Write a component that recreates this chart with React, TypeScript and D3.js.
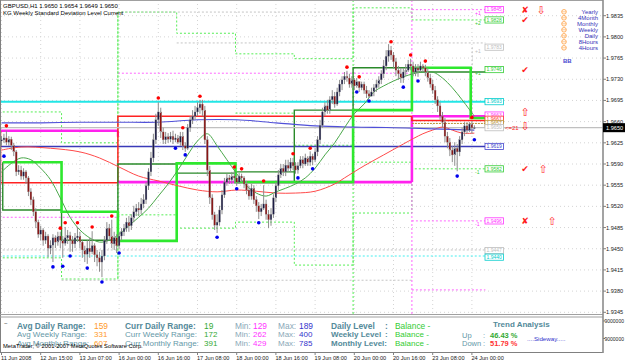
import React from "react";
import * as d3 from "d3";

// ---------------- data ----------------
const firstOpen = 1.9628;
const closes = [
  1.9630, 1.9633, 1.9626, 1.9631, 1.9621, 1.9610, 1.9577, 1.9580, 1.9570, 1.9577,
  1.9567, 1.9544, 1.9531, 1.9511, 1.9494, 1.9474, 1.9481, 1.9464, 1.9471, 1.9451,
  1.9456, 1.9468, 1.9461, 1.9471, 1.9464, 1.9459, 1.9468, 1.9472, 1.9464, 1.9458,
  1.9468, 1.9471, 1.9461, 1.9448, 1.9441, 1.9451, 1.9445, 1.9455, 1.9440, 1.9435,
  1.9428, 1.9438, 1.9464, 1.9484, 1.9471, 1.9458, 1.9468, 1.9455, 1.9471, 1.9478,
  1.9484, 1.9494, 1.9488, 1.9501, 1.9511, 1.9517, 1.9514, 1.9524, 1.9531, 1.9554,
  1.9577, 1.9600, 1.9630, 1.9663, 1.9676, 1.9643, 1.9630, 1.9635, 1.9631, 1.9636,
  1.9630, 1.9633, 1.9626, 1.9636, 1.9620, 1.9616, 1.9650, 1.9663, 1.9669, 1.9676,
  1.9683, 1.9689, 1.9679, 1.9630, 1.9580, 1.9534, 1.9506, 1.9489, 1.9494, 1.9514,
  1.9539, 1.9560, 1.9567, 1.9564, 1.9570, 1.9567, 1.9560, 1.9570, 1.9567, 1.9557,
  1.9547, 1.9537, 1.9550, 1.9531, 1.9521, 1.9511, 1.9517, 1.9524, 1.9507, 1.9498,
  1.9507, 1.9534, 1.9554, 1.9572, 1.9583, 1.9577, 1.9588, 1.9583, 1.9593, 1.9587,
  1.9580, 1.9587, 1.9597, 1.9590, 1.9600, 1.9593, 1.9603, 1.9597, 1.9610, 1.9630,
  1.9654, 1.9676, 1.9686, 1.9679, 1.9696, 1.9702, 1.9689, 1.9709, 1.9722, 1.9729,
  1.9735, 1.9732, 1.9722, 1.9729, 1.9719, 1.9726, 1.9716, 1.9722, 1.9712, 1.9706,
  1.9702, 1.9709, 1.9716, 1.9722, 1.9729, 1.9739, 1.9752, 1.9768, 1.9778, 1.9770,
  1.9759, 1.9745, 1.9739, 1.9732, 1.9742, 1.9745, 1.9755, 1.9752, 1.9742, 1.9749,
  1.9745, 1.9752, 1.9749, 1.9742, 1.9732, 1.9722, 1.9712, 1.9696, 1.9686, 1.9669,
  1.9659, 1.9636, 1.9626, 1.9613, 1.9605, 1.9616, 1.9610, 1.9630, 1.9643, 1.9653,
  1.9646, 1.9656, 1.9650, 1.9650,
];
const highs = [
  1.9636, 1.9640, 1.9645, 1.9636, 1.9635, 1.9625, 1.9613, 1.9588, 1.9587, 1.9583,
  1.9580, 1.9570, 1.9550, 1.9536, 1.9517, 1.9498, 1.9488, 1.9484, 1.9478, 1.9474,
  1.9464, 1.9474, 1.9472, 1.9478, 1.9478, 1.9471, 1.9486, 1.9481, 1.9478, 1.9471,
  1.9476, 1.9486, 1.9478, 1.9464, 1.9455, 1.9464, 1.9468, 1.9479, 1.9459, 1.9448,
  1.9445, 1.9448, 1.9471, 1.9494, 1.9491, 1.9498, 1.9478, 1.9474, 1.9478, 1.9484,
  1.9491, 1.9501, 1.9504, 1.9507, 1.9521, 1.9524, 1.9527, 1.9534, 1.9540, 1.9560,
  1.9583, 1.9610, 1.9640, 1.9673, 1.9692, 1.9683, 1.9650, 1.9643, 1.9641, 1.9643,
  1.9645, 1.9640, 1.9638, 1.9643, 1.9643, 1.9626, 1.9656, 1.9669, 1.9679, 1.9686,
  1.9692, 1.9696, 1.9696, 1.9686, 1.9636, 1.9587, 1.9540, 1.9511, 1.9507, 1.9521,
  1.9547, 1.9567, 1.9574, 1.9572, 1.9577, 1.9578, 1.9572, 1.9575, 1.9574, 1.9570,
  1.9562, 1.9554, 1.9557, 1.9555, 1.9537, 1.9527, 1.9524, 1.9555, 1.9531, 1.9514,
  1.9517, 1.9540, 1.9560, 1.9580, 1.9590, 1.9590, 1.9597, 1.9597, 1.9600, 1.9600,
  1.9593, 1.9593, 1.9603, 1.9603, 1.9607, 1.9603, 1.9611, 1.9607, 1.9616, 1.9636,
  1.9663, 1.9683, 1.9692, 1.9696, 1.9702, 1.9712, 1.9709, 1.9716, 1.9729, 1.9735,
  1.9742, 1.9744, 1.9739, 1.9735, 1.9732, 1.9732, 1.9727, 1.9726, 1.9726, 1.9719,
  1.9712, 1.9716, 1.9722, 1.9729, 1.9735, 1.9745, 1.9762, 1.9778, 1.9788, 1.9785,
  1.9775, 1.9765, 1.9752, 1.9749, 1.9749, 1.9755, 1.9762, 1.9764, 1.9759, 1.9755,
  1.9755, 1.9759, 1.9755, 1.9754, 1.9749, 1.9739, 1.9729, 1.9719, 1.9702, 1.9692,
  1.9676, 1.9666, 1.9643, 1.9633, 1.9620, 1.9626, 1.9623, 1.9636, 1.9650, 1.9659,
  1.9659, 1.9659, 1.9661, 1.9654,
];
const lows = [
  1.9620, 1.9625, 1.9621, 1.9620, 1.9613, 1.9603, 1.9570, 1.9572, 1.9564, 1.9564,
  1.9557, 1.9537, 1.9522, 1.9504, 1.9484, 1.9468, 1.9464, 1.9455, 1.9458, 1.9436,
  1.9441, 1.9428, 1.9451, 1.9455, 1.9451, 1.9435, 1.9455, 1.9458, 1.9445, 1.9445,
  1.9451, 1.9461, 1.9451, 1.9435, 1.9428, 1.9425, 1.9435, 1.9441, 1.9428, 1.9421,
  1.9412, 1.9403, 1.9431, 1.9458, 1.9464, 1.9451, 1.9448, 1.9443, 1.9450, 1.9464,
  1.9471, 1.9478, 1.9478, 1.9481, 1.9494, 1.9504, 1.9504, 1.9507, 1.9517, 1.9524,
  1.9547, 1.9570, 1.9593, 1.9623, 1.9653, 1.9633, 1.9623, 1.9623, 1.9625, 1.9626,
  1.9623, 1.9626, 1.9623, 1.9620, 1.9613, 1.9610, 1.9613, 1.9643, 1.9656, 1.9663,
  1.9669, 1.9673, 1.9669, 1.9623, 1.9570, 1.9524, 1.9498, 1.9481, 1.9476, 1.9488,
  1.9507, 1.9534, 1.9554, 1.9557, 1.9557, 1.9560, 1.9554, 1.9557, 1.9560, 1.9550,
  1.9540, 1.9531, 1.9531, 1.9524, 1.9511, 1.9499, 1.9504, 1.9514, 1.9498, 1.9484,
  1.9488, 1.9501, 1.9527, 1.9547, 1.9567, 1.9570, 1.9570, 1.9577, 1.9577, 1.9580,
  1.9574, 1.9574, 1.9583, 1.9583, 1.9587, 1.9587, 1.9587, 1.9588, 1.9593, 1.9603,
  1.9623, 1.9650, 1.9669, 1.9673, 1.9673, 1.9689, 1.9683, 1.9686, 1.9702, 1.9712,
  1.9722, 1.9726, 1.9716, 1.9716, 1.9712, 1.9716, 1.9709, 1.9712, 1.9706, 1.9699,
  1.9699, 1.9702, 1.9702, 1.9709, 1.9716, 1.9722, 1.9732, 1.9745, 1.9759, 1.9762,
  1.9749, 1.9735, 1.9729, 1.9724, 1.9724, 1.9735, 1.9742, 1.9745, 1.9735, 1.9735,
  1.9734, 1.9742, 1.9742, 1.9735, 1.9726, 1.9716, 1.9706, 1.9689, 1.9676, 1.9663,
  1.9650, 1.9626, 1.9616, 1.9603, 1.9593, 1.9587, 1.9578, 1.9603, 1.9623, 1.9636,
  1.9640, 1.9643, 1.9640, 1.9649,
];

const timeTickBars = [0, 16, 32, 48, 64, 80, 96, 112, 128, 144, 160, 176, 192];
const timeTickLabels = [
  "11 Jun 2008", "12 Jun 15:00", "13 Jun 07:00", "16 Jun 00:00", "16 Jun 16:00",
  "17 Jun 08:00", "18 Jun 00:00", "18 Jun 16:00", "19 Jun 08:00", "20 Jun 00:00",
  "20 Jun 16:00", "23 Jun 08:00", "24 Jun 00:00",
];
const priceTicks = [
  1.9835, 1.98, 1.9765, 1.973, 1.9695, 1.966, 1.9625, 1.959, 1.9555, 1.952,
  1.9485, 1.945, 1.9415, 1.938, 1.9345,
];
const lastPrice = 1.965;

const fractalUpBars = [2, 24, 26, 31, 37, 45, 64, 74, 81, 95, 98, 107, 119, 126, 141, 146, 159, 167, 173, 192];
const fractalUpPrices = [1.9653, 1.9484, 1.9493, 1.9493, 1.9486, 1.9504, 1.9699, 1.965, 1.9702, 1.9585, 1.9582, 1.9562, 1.9607, 1.9616, 1.975, 1.9734, 1.9792, 1.977, 1.976, 1.9667];
const fractalDownBars = [1, 21, 25, 28, 35, 41, 48, 71, 75, 88, 96, 105, 121, 127, 145, 150, 164, 170, 186, 193];
const fractalDownPrices = [1.9603, 1.942, 1.9421, 1.9438, 1.9418, 1.9395, 1.9443, 1.9616, 1.9605, 1.9469, 1.9549, 1.9493, 1.9567, 1.9582, 1.9709, 1.9694, 1.9717, 1.9727, 1.957, 1.963];

const maGreenBars = [0, 4, 8, 12, 16, 20, 24, 28, 32, 36, 40, 44, 48, 52, 56, 60, 64, 68, 72, 76, 80, 84, 88, 92, 96, 100, 104, 108, 112, 116, 120, 124, 128, 132, 136, 140, 144, 148, 152, 156, 160, 164, 168, 172, 176, 180, 184, 188, 193];
const maGreenValues = [1.9577, 1.9591, 1.96, 1.9597, 1.9583, 1.9564, 1.9534, 1.9502, 1.9481, 1.9468, 1.9461, 1.9464, 1.9474, 1.9488, 1.9502, 1.9517, 1.9537, 1.9557, 1.958, 1.9605, 1.9628, 1.964, 1.962, 1.9597, 1.9574, 1.9554, 1.9542, 1.9537, 1.9544, 1.955, 1.9557, 1.9567, 1.9583, 1.9605, 1.9625, 1.965, 1.9673, 1.9689, 1.9709, 1.9719, 1.9727, 1.9734, 1.9739, 1.9742, 1.9742, 1.9732, 1.9716, 1.9696, 1.9669];
const maRedBars = [0, 8, 20, 32, 40, 48, 56, 64, 72, 80, 88, 96, 104, 112, 120, 128, 136, 140, 148, 156, 164, 172, 176, 180, 184, 188, 193];
const maRedValues = [1.9613, 1.9618, 1.9616, 1.961, 1.96, 1.9585, 1.957, 1.9562, 1.9554, 1.9547, 1.9544, 1.9547, 1.9545, 1.9542, 1.9542, 1.9545, 1.9557, 1.9567, 1.9587, 1.9605, 1.9623, 1.964, 1.9646, 1.9651, 1.9646, 1.9641, 1.9641];
const maBlueBars = [0, 16, 32, 48, 64, 80, 96, 112, 128, 144, 160, 176, 193];
const maBlueValues = [1.9658, 1.9658, 1.9659, 1.9659, 1.9659, 1.9663, 1.9663, 1.9658, 1.9653, 1.9651, 1.965, 1.9648, 1.9646];

// daily standard deviation levels (per trading day)
const dayStartBars = [1, 25, 48, 72, 96, 120, 144, 168, 192];
const dailyBright = [1.9593, 1.9511, 1.9463, 1.9591, 1.956, 1.956, 1.9679, 1.9749, 1.9666];
const dailyDark = [1.9514, 1.9464, 1.959, 1.9575, 1.9577, 1.9679, 1.9749, 1.9742];
const dailyUpper = [1.9676, 1.9625, 1.9841, 1.9806, 1.9772, 1.9764, 1.9848, 1.9828, 1.9828];
const dailyLower = [1.9435, 1.94, 1.9506, 1.9484, 1.9494, 1.9423, 1.9509, 1.9582, 1.9582];

// weekly levels
const weekStartBars = [0, 48, 168];
const weeklyMagenta = [1.9645, 1.956, 1.9669];
const weeklyRed = [1.9559, 1.9669, 1.9662];

const monthlyCyan = 1.9693;
const monthlyBlue = 1.9619;

// extra dotted levels [fromBar, toBar(-1 = label column), price]
const grayDotted = [[48, 168, 1.9841], [72, -1, 1.979], [1, -1, 1.9448], [25, 168, 1.9398]];
const magentaDotted = [[1, 48, 1.9502], [48, 168, 1.974], [168, -1, 1.9845], [168, -1, 1.9496], [168, -1, 1.9382]];
const cyanDotted = [[1, -1, 1.9438]];
const greenInnerDotted = [[96, 120, 1.9674], [120, 144, 1.9621], [144, 168, 1.9593]];

const levelLabelValues = [1.9845, 1.9828, 1.9783, 1.9746, 1.9693, 1.9663, 1.9661, 1.9657, 1.965, 1.9619, 1.9582, 1.9496, 1.9447, 1.944];
const levelLabelColors = ["#ff33ff", "#33cc33", "#bdbdbd", "#33cc33", "#00cccc", "#ff33ff", "#ff3030", "#b89030", "#bdbdbd", "#4444cc", "#33cc33", "#ff33ff", "#bdbdbd", "#00cccc"];
const levelMarks = [[1.9845, "+1"], [1.9828, "+2"], [1.9783, "+1"], [1.9746, "+1"], [1.9582, "-1"], [1.9496, "-1"]];
const levelMarkColors = ["#ff33ff", "#33cc33", "#bdbdbd", "#33cc33", "#33cc33", "#ff33ff"];

const signalCol1 = [[1.9845, "✘"], [1.9828, "✔"], [1.9746, "✔"], [1.9675, "⇧"], [1.9652, "⇩"], [1.9582, "✔"], [1.9496, "✘"]];
const signalCol2 = [[1.9845, "⇩"], [1.9582, "⇧"], [1.9496, "⇧"]];

const periodNames = ["Yearly", "4Month", "Monthly", "Weekly", "Daily", "8Hours", "4Hours"];

const rangeNames = ["Daily", "Weekly", "Monthly"];
const avgRange = [159, 331, 607];
const currRange = [19, 172, 391];
const minRange = [129, 262, 429];
const maxRange = [189, 400, 785];
const levelStatus = ["Balance -", "Balance -", "Balance -"];
const trendUp = 46.43;
const trendDown = 51.79;
const trendText = "....Sideway.....";
const subAxisLabels = ["9000000", "9000000"];

const FONT = "'Liberation Sans', Arial, Helvetica, sans-serif";

export default function App() {
  const W = 625;
  const H = 363;
  const X = d3.scaleLinear().domain([0, 193]).range([1.5, 474.35]);
  const Y = d3.scaleLinear().domain([1.9345, 1.9835]).range([312.3, 15.7]);
  const END_BAR = 197.5;
  const AXIS_X = 603;
  const bx = (b: number) => X(b) - 1.2;
  const ex = (b: number) => (b < 0 ? X(END_BAR) : bx(b));
  const opens = closes.map((c, i) => (i === 0 ? firstOpen : closes[i - 1]));

  const stepPath = (starts: number[], vals: number[]) => {
    let d = "";
    vals.forEach((v, i) => {
      const x0 = i === 0 ? Math.max(0, bx(starts[i])) : bx(starts[i]);
      const x1 = i + 1 < starts.length ? bx(starts[i + 1]) : X(END_BAR);
      const y = Y(v);
      d += (i === 0 ? `M${x0},${y}` : `L${x0},${y}`) + `L${x1},${y}`;
    });
    return d;
  };
  const segPath = (starts: number[], vals: number[]) =>
    vals
      .map((v, i) => {
        const x0 = Math.max(0, bx(starts[i]));
        const x1 = i + 1 < starts.length ? bx(starts[i + 1]) : X(END_BAR);
        return `M${x0},${Y(v)}L${x1},${Y(v)}`;
      })
      .join("");
  const bracketPath = (starts: number[], from: number[], to: number[]) =>
    to
      .map((v, i) => {
        const x0 = Math.max(0.5, bx(starts[i]));
        const x1 = i + 1 < starts.length ? bx(starts[i + 1]) : X(END_BAR);
        return `M${x0},${Y(from[i])}L${x0},${Y(v)}L${x1},${Y(v)}`;
      })
      .join("");

  const maLine = (bars: number[], vals: number[]) =>
    d3
      .line<number>()
      .x((_, i) => X(bars[i]))
      .y((v) => Y(v))
      .curve(d3.curveCatmullRom)(vals) || "";

  const dotted = (list: number[][], color: string, key: string) =>
    list.map((s, i) => (
      <line key={key + i} x1={bx(s[0])} x2={ex(s[1])} y1={Y(s[2])} y2={Y(s[2])}
        stroke={color} strokeWidth={1} strokeDasharray="2,2" />
    ));

  // stack the right-hand level labels: upward above the price, downward below it
  const labelYs = levelLabelValues.map((v) => Y(v));
  const pivot = levelLabelValues.findIndex((v) => v === lastPrice);
  for (let i = pivot - 1; i >= 0; i--) {
    if (labelYs[i] > labelYs[i + 1] - 4.2) labelYs[i] = labelYs[i + 1] - 4.2;
  }
  for (let i = pivot + 1; i < labelYs.length; i++) {
    if (labelYs[i] < labelYs[i - 1] + 6.6) labelYs[i] = labelYs[i - 1] + 6.6;
  }

  const teal = "#6598a8";
  const tealBold = "#548a9a";
  const row1 = 328.5, rowStep = 8.6;

  return (
    <div style={{ position: "fixed", left: 0, top: 0 }}>
      <svg width={W} height={H} style={{ display: "block", fontFamily: FONT }}>
        <rect x={0} y={0} width={W} height={H} fill="#ffffff" />
        <defs>
          <clipPath id="main">
            <rect x={0} y={1} width={AXIS_X} height={313} />
          </clipPath>
        </defs>

        <g clipPath="url(#main)">
          {/* grid */}
          {priceTicks.map((p) => (
            <line key={"gh" + p} x1={0} x2={AXIS_X} y1={Y(p)} y2={Y(p)} stroke="#d4d4d4" strokeDasharray="1,3" />
          ))}
          {timeTickBars.map((b) => (
            <line key={"gv" + b} x1={X(b)} x2={X(b)} y1={0} y2={314} stroke="#d4d4d4" strokeDasharray="1,3" />
          ))}

          {/* dotted std-dev levels */}
          <path d={stepPath(dayStartBars, dailyUpper)} fill="none" stroke="#55ee55" strokeDasharray="2,2" />
          <path d={stepPath(dayStartBars, dailyLower)} fill="none" stroke="#55ee55" strokeDasharray="2,2" />
          {dotted(greenInnerDotted, "#55ee55", "gi")}
          {dotted(grayDotted, "#c4c4c4", "gd")}
          {dotted(magentaDotted, "#ff66ff", "md")}
          {dotted(cyanDotted, "#44eeee", "cd")}
          <line x1={bx(48)} x2={bx(48)} y1={Y(1.9841)} y2={Y(1.94)} stroke="#55ee55" strokeDasharray="2,2" />
          <line x1={bx(144)} x2={bx(144)} y1={0} y2={314} stroke="#55ee55" strokeDasharray="2,2" />
          <line x1={bx(168)} x2={bx(168)} y1={0} y2={314} stroke="#ff66ff" strokeDasharray="2,2" />
          <line x1={bx(192) + 1.5} x2={bx(192) + 1.5} y1={Y(1.9783)} y2={Y(1.9666)} stroke="#c4c4c4" strokeDasharray="2,2" />

          {/* monthly solid levels */}
          <line x1={0} x2={X(END_BAR)} y1={Y(monthlyCyan)} y2={Y(monthlyCyan)} stroke="#22e6e6" strokeWidth={2} />
          <line x1={0} x2={X(END_BAR)} y1={Y(monthlyBlue)} y2={Y(monthlyBlue)} stroke="#3a3ab8" strokeWidth={1.5} />

          {/* weekly levels */}
          <path d={segPath(weekStartBars, weeklyMagenta)} fill="none" stroke="#ff22ee" strokeWidth={2.6} />
          <line x1={bx(168)} x2={bx(168)} y1={Y(weeklyMagenta[1])} y2={Y(weeklyMagenta[2])} stroke="#ff22ee" strokeWidth={2.6} />
          <line x1={bx(48)} x2={bx(48)} y1={Y(weeklyMagenta[0])} y2={Y(weeklyMagenta[0]) + 6} stroke="#ff22ee" strokeWidth={2.2} />
          <path d={bracketPath(weekStartBars, weeklyMagenta, weeklyRed)} fill="none" stroke="#ff2222" strokeWidth={1.5} />
          <line x1={bx(168)} x2={X(END_BAR)} y1={Y(1.9657)} y2={Y(1.9657)} stroke="#b89030" strokeWidth={1} strokeDasharray="2,1" />

          {/* daily levels */}
          <path d={bracketPath(dayStartBars.slice(0, 8), dailyBright, dailyDark)} fill="none" stroke="#2a8a2a" strokeWidth={1.4} />
          <path d={stepPath(dayStartBars, dailyBright)} fill="none" stroke="#2ee82e" strokeWidth={2.6} />

          {/* current price line */}
          <line x1={0} x2={AXIS_X} y1={Y(lastPrice)} y2={Y(lastPrice)} stroke="#c0c0c0" strokeWidth={1.2} />

          {/* moving averages */}
          <path d={maLine(maRedBars, maRedValues)} fill="none" stroke="#ff4a4a" strokeWidth={1} />
          <path d={maLine(maBlueBars, maBlueValues)} fill="none" stroke="#5050d8" strokeWidth={1.1} />
          <path d={maLine(maGreenBars, maGreenValues)} fill="none" stroke="#4aa84a" strokeWidth={1} />

          {/* candles */}
          {closes.map((c, i) => {
            const o = opens[i];
            const hi = Math.max(highs[i], o, c);
            const lo = Math.min(lows[i], o, c);
            const up = c >= o;
            const top = Y(Math.max(o, c));
            const h = Math.max(1, Y(Math.min(o, c)) - top);
            const cx = X(i);
            return (
              <g key={"c" + i}>
                <line x1={cx} x2={cx} y1={Y(hi)} y2={Y(lo)} stroke="#8c8c8c" strokeWidth={1} />
                <rect x={cx - 0.9} y={top} width={1.8} height={h}
                  fill={up ? "#1c1c44" : "#8a1414"} stroke="#9a9a9a" strokeWidth={0.3} />
              </g>
            );
          })}

          {/* fractals */}
          {fractalUpBars.map((b, i) => (
            <circle key={"fu" + i} cx={X(b)} cy={Y(fractalUpPrices[i])} r={1.8} fill="#ff0000" />
          ))}
          {fractalDownBars.map((b, i) => (
            <circle key={"fd" + i} cx={X(b)} cy={Y(fractalDownPrices[i])} r={1.8} fill="#0000ee" />
          ))}

          {/* level label boxes */}
          {levelLabelValues.map((v, i) => (
            <g key={"lb" + i}>
              <rect x={485} y={labelYs[i] - 3.1} width={18.5} height={6.2} fill="#ffffff"
                stroke={levelLabelColors[i]} strokeWidth={0.8} />
              <text x={494.2} y={labelYs[i] + 1.8} fontSize={5} textAnchor="middle" fill={levelLabelColors[i]}>
                {v.toFixed(4)}
              </text>
            </g>
          ))}
          <text x={505} y={Y(lastPrice) + 2} fontSize={6} fill="#ff2222">{"<=21"}</text>
          {levelMarks.map((m, i) => (
            <text key={"lm" + i} x={475} y={Y(m[0] as number) + 5.5} fontSize={5} fill={levelMarkColors[i]}>
              {m[1] as string}
            </text>
          ))}

          {/* signals */}
          {signalCol1.map((s, i) => (
            <text key={"s1" + i} x={525} y={Y(s[0] as number) + 3.5} fontSize={(s[1] as string).startsWith("⇧") || (s[1] as string).startsWith("⇩") ? 11 : 9}
              textAnchor="middle" fill="#ff2020" fontFamily="'DejaVu Sans', sans-serif">
              {s[1] as string}
            </text>
          ))}
          {signalCol2.map((s, i) => (
            <text key={"s2" + i} x={[541, 543, 552][i]} y={Y(s[0] as number) + 4} fontSize={11}
              textAnchor="middle" fill="#ff3030" fontFamily="'DejaVu Sans', sans-serif">
              {s[1] as string}
            </text>
          ))}

          {/* period legend */}
          {periodNames.map((n, i) => (
            <g key={"pn" + i}>
              <circle cx={564} cy={11.8 + i * 6} r={2.3} fill="none" stroke="#ffa040" strokeWidth={0.8} />
              <line x1={561.8} x2={566.2} y1={11.8 + i * 6} y2={11.8 + i * 6} stroke="#ffa040" strokeWidth={0.6} />
              <text x={598} y={13.9 + i * 6} fontSize={6} textAnchor="end" fill="#3434b8">{n}</text>
            </g>
          ))}
          <text x={563} y={63} fontSize={6} fontWeight="bold" fill="#4a4ad0">BB</text>

          {/* title */}
          <text x={3} y={7.5} fontSize={6} fill="#000">GBPUSD,H1  1.9650 1.9654 1.9649 1.9650</text>
          <text x={3} y={15} fontSize={6} fill="#000">KG Weekly Standard Deviation Level Current</text>
        </g>

        {/* frame */}
        <line x1={0} x2={AXIS_X} y1={0.5} y2={0.5} stroke="#a0a0a0" />
        <line x1={0.5} x2={0.5} y1={0} y2={352.5} stroke="#808080" />
        <line x1={0} x2={AXIS_X} y1={314.5} y2={314.5} stroke="#a0a0a0" />
        <line x1={0} x2={AXIS_X} y1={317} y2={317} stroke="#a0a0a0" />
        <line x1={0} x2={AXIS_X} y1={352.5} y2={352.5} stroke="#808080" />
        <line x1={AXIS_X} x2={AXIS_X} y1={0} y2={353} stroke="#8c8c8c" strokeWidth={1.6} />

        {/* right price axis */}
        {priceTicks.map((p) => (
          <g key={"pt" + p}>
            <line x1={AXIS_X} x2={AXIS_X + 3} y1={Y(p)} y2={Y(p)} stroke="#808080" />
            <text x={606} y={Y(p) + 2} fontSize={5.6} fill="#202020">{p.toFixed(4)}</text>
          </g>
        ))}
        <rect x={AXIS_X} y={Y(lastPrice) - 4.5} width={W - AXIS_X} height={9} fill="#000000" />
        <text x={606} y={Y(lastPrice) + 2} fontSize={5.6} fill="#ffffff">{lastPrice.toFixed(4)}</text>

        {/* sub-window axis */}
        {subAxisLabels.map((t, i) => (
          <g key={"sa" + i}>
            <line x1={AXIS_X} x2={AXIS_X + 2} y1={321 + i * 17.5} y2={321 + i * 17.5} stroke="#808080" />
            <text x={604.5} y={323 + i * 17.5} fontSize={5} fill="#202020">{t}</text>
          </g>
        ))}

        {/* time axis */}
        {timeTickBars.map((b, i) => (
          <g key={"tt" + b}>
            <line x1={X(b)} x2={X(b)} y1={352.5} y2={355} stroke="#808080" />
            <text x={X(b) - 0.5} y={360} fontSize={5.6} fill="#202020">{timeTickLabels[i]}</text>
          </g>
        ))}

        {/* sub-window info panel */}
        <text x={4} y={325} fontSize={6} fill="#606060">~</text>
        {rangeNames.map((n, i) => {
          const yy = row1 + i * rowStep;
          const bold = i === 0;
          const fs = bold ? 8.4 : 8;
          return (
            <g key={"rr" + i} fontSize={fs}>
              <text x={17} y={yy} fill={bold ? tealBold : teal} fontWeight={bold ? "bold" : "normal"}>{`Avg ${n} Range:`}</text>
              <text x={94} y={yy} fill="#ff9a2a">{avgRange[i]}</text>
              <text x={125} y={yy} fill={bold ? tealBold : teal} fontWeight={bold ? "bold" : "normal"}>{`Curr ${n} Range:`}</text>
              <text x={204} y={yy} fill="#33aa33">{currRange[i]}</text>
              <text x={235} y={yy} fill="#8aa8b8">Min:</text>
              <text x={253} y={yy} fill="#ff33ff">{minRange[i]}</text>
              <text x={278} y={yy} fill="#8aa8b8">Max:</text>
              <text x={299} y={yy} fill="#3333cc">{maxRange[i]}</text>
              <text x={331} y={yy} fill={tealBold} fontWeight="bold">{i === 2 ? `${n} Level:` : `${n} Level`}</text>
              {i < 2 && <text x={385} y={yy} fill={tealBold} fontWeight="bold">:</text>}
              <text x={395} y={yy} fill="#33cc33">{levelStatus[i]}</text>
            </g>
          );
        })}
        <text x={493} y={327} fontSize={8} fontWeight="bold" fill={tealBold}>Trend Analysis</text>
        <text x={462} y={337.5} fontSize={7.5} fill={teal}>Up</text>
        <text x={483} y={337.5} fontSize={7.5} fill={teal}>:</text>
        <text x={490} y={337.5} fontSize={7.5} fontWeight="bold" fill="#33aa33">{trendUp.toFixed(2)} %</text>
        <text x={462} y={346} fontSize={7.5} fill={teal}>Down</text>
        <text x={483} y={346} fontSize={7.5} fill={teal}>:</text>
        <text x={490} y={346} fontSize={7.5} fontWeight="bold" fill="#ff3333">{trendDown.toFixed(2)} %</text>
        <text x={527} y={341} fontSize={6.2} fill="#3333cc">{trendText}</text>
        <text x={3} y={348} fontSize={5.8} fill="#000000">MetaTrader, © 2001-2007 MetaQuotes Software Corp.</text>
      </svg>
    </div>
  );
}
